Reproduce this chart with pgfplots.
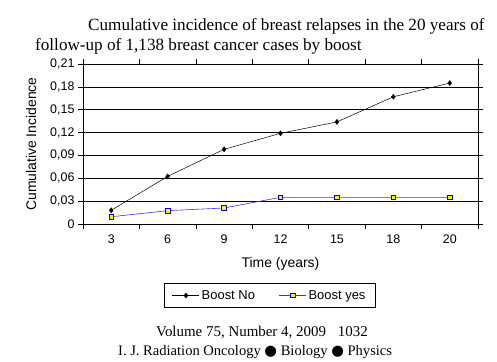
\documentclass[border=0pt]{standalone}
\usepackage{fontspec}
\setmainfont{Liberation Serif}
\setsansfont{Liberation Sans}
\newfontfamily\symfont{DejaVu Sans}
\usepackage{pgfplots}
\pgfplotsset{compat=1.18}
\begin{document}
\begin{tikzpicture}[x=1bp,y=1bp]
\path[use as bounding box] (0,0) rectangle (497,361);
\begin{axis}[
  at={(83bp,137bp)}, anchor=south west,
  scale only axis, width=395bp, height=160bp,
  xmin=-0.5, xmax=6.5, ymin=0, ymax=0.21,
  xtick={0,...,6}, xticklabels={3,6,9,12,15,18,20},
  minor xtick={-0.5,0.5,...,6.5},
  ytick={0,0.03,...,0.21},
  yticklabels={{0},{0,03},{0,06},{0,09},{0,12},{0,15},{0,18},{0,21}},
  tick align=outside,
  major tick length=5bp, minor tick length=5bp,
  x tick style={draw=none},
  minor x tick style={draw=black, line width=0.6pt},
  y tick style={black, line width=0.6pt},
  ymajorgrids, grid style={black, line width=0.6pt},
  axis line style={black, line width=0.6pt},
  /pgf/number format/assume math mode=true,
  tick label style={font=\sffamily\fontsize{12.5}{14}\selectfont},
  xticklabel style={yshift=-2bp},
  label style={font=\sffamily\fontsize{14}{16}\selectfont},
  xlabel={Time (years)},
  ylabel={Cumulative Incidence},
  xlabel style={at={(axis description cs:0.5,0)}, anchor=base, yshift=-43bp},
  ylabel style={at={(axis description cs:0,0.5)}, anchor=base, yshift=47bp},
  legend columns=2,
  legend style={at={(rel axis cs:0.473,-0.447)}, anchor=center, draw=black, line width=0.6pt,
    font=\sffamily\fontsize{13}{15}\selectfont, inner xsep=8bp, inner ysep=5bp,
    /tikz/every even column/.append style={column sep=22bp}},
  legend image code/.code={\draw[mark repeat=2,mark phase=2] plot coordinates {(0bp,0bp) (13.5bp,0bp) (27bp,0bp)};},
  clip=false,
]
\addplot[black, line width=0.5pt, mark=diamond*, mark size=2.6bp, mark options={fill=black, line width=0.3pt}]
  coordinates {(0,0.018) (1,0.0625) (2,0.098) (3,0.119) (4,0.134) (5,0.167) (6,0.185)};
\addlegendentry{Boost No}
\addplot[blue!80, line width=0.6pt, mark=square*, mark size=2.3bp, mark options={fill=yellow, draw=blue!90!black, line width=0.8pt}]
  coordinates {(0,0.0095) (1,0.0175) (2,0.021) (3,0.035) (4,0.035) (5,0.035) (6,0.035)};
\addlegendentry{Boost yes}
\end{axis}
\node[anchor=base west, inner sep=0, font=\fontsize{17.2}{20}\selectfont] at (88,331) {Cumulative incidence of breast relapses in the 20 years of};
\node[anchor=base west, inner sep=0, font=\fontsize{17.2}{20}\selectfont] at (35,311) {follow-up of 1,138 breast cancer cases by boost};
\node[anchor=base, inner sep=0, font=\fontsize{15}{18}\selectfont] at (262,25) {Volume 75, Number 4, 2009\hspace{0.8em}1032};
\node[anchor=base west, inner sep=0, font=\fontsize{14.6}{18}\selectfont] at (118,6) {I. J. Radiation Oncology {\symfont ●} Biology {\symfont ●} Physics};
\end{tikzpicture}
\end{document}
